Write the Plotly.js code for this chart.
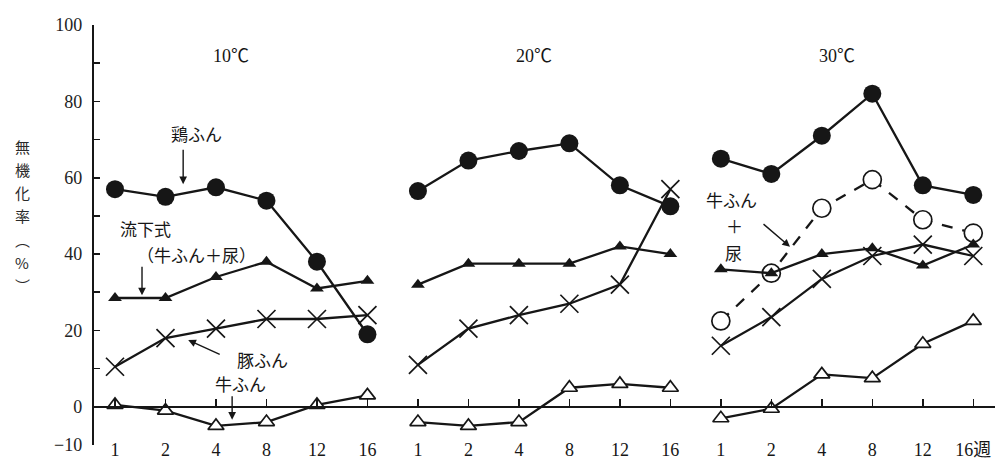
<!DOCTYPE html>
<html><head><meta charset="utf-8">
<script src="https://cdn.plot.ly/plotly-3.0.1.min.js"></script>
<style>html,body{margin:0;padding:0;background:#fff}#chart{width:995px;height:460px}</style>
</head><body><div id="chart"></div>
<script>
// ---- data ----
const weeks = ['1','2','4','8','12','16'];
const temps = ['10℃','20℃','30℃'];
const lastWeekLabel = '16週';

const chicken10 = [57, 55, 57.5, 54, 38, 19];
const chicken20 = [56.5, 64.5, 67, 69, 58, 52.5];
const chicken30 = [65, 61, 71, 82, 58, 55.5];

const flow10 = [28.5, 28.5, 34, 38, 31, 33];
const flow20 = [32, 37.5, 37.5, 37.5, 42, 40];
const flow30 = [36, 35, 40, 41.5, 37, 42.5];

const pig10 = [10.5, 18, 20.5, 23, 23, 24];
const pig20 = [11, 20.5, 24, 27, 32, 57];
const pig30 = [16, 23.5, 33.5, 39.5, 42.5, 39.5];

const cattle10 = [0.5, -1, -5, -4, 0.5, 3];
const cattle20 = [-4, -5, -4, 5, 6, 5];
const cattle30 = [-3, -0.5, 8.5, 7.5, 16.5, 22.5];

const cattleUrine30 = [22.5, 35, 52, 59.5, 49, 45.5];

const yTicks = [-10, 0, 10, 20, 30, 40, 50, 60, 70, 80, 90, 100];
const yTickText = ['−10', '0', '', '20', '', '40', '', '60', '', '80', '', '100'];
const yTitleChars = ['無', '機', '化', '率', '︵', '%', '︶'];

// ---- helpers ----
const PANEL = 6;
function build(panels) {
  const xs = [], ys = [];
  panels.forEach(([p, arr]) => {
    arr.forEach((v, i) => { xs.push(p * PANEL + i); ys.push(v); });
    xs.push(null); ys.push(null);
  });
  return {x: xs, y: ys};
}
const INK = '#161616';
const serif = 'Liberation Serif, Noto Sans CJK JP, serif';
const cjk = 'Noto Sans CJK JP, sans-serif';

function series(panels, marker, dash) {
  const d = build(panels);
  return {
    type: 'scatter', mode: 'lines+markers', x: d.x, y: d.y,
    line: {color: INK, width: 2.3, dash: dash || 'solid'},
    marker: marker, connectgaps: false, hoverinfo: 'skip', showlegend: false,
    cliponaxis: false
  };
}

const traces = [
  series([[0, cattle10], [1, cattle20], [2, cattle30]],
    {symbol: 'triangle-up', size: 14, color: '#fff', line: {color: INK, width: 1.7}}),
  series([[2, cattleUrine30]],
    {symbol: 'circle', size: 18, color: '#fff', line: {color: INK, width: 1.7}}, '11px,10px'),
  series([[0, pig10], [1, pig20], [2, pig30]],
    {symbol: 'x-thin-open', size: 18, color: INK, line: {color: INK, width: 1.7}}),
  series([[0, flow10], [1, flow20], [2, flow30]],
    {symbol: 'triangle-up', size: 12, color: INK, line: {color: INK, width: 0}}),
  series([[0, chicken10], [1, chicken20], [2, chicken30]],
    {symbol: 'circle', size: 18, color: INK, line: {color: INK, width: 0}}),
  {type: 'scatter', x: [], y: [], xaxis: 'x2', yaxis: 'y', showlegend: false, hoverinfo: 'skip'}
];

const tickPos = [], tickTxt = [];
temps.forEach((t, p) => weeks.forEach((w, i) => {
  tickPos.push(p * PANEL + i);
  tickTxt.push(p === temps.length - 1 && i === weeks.length - 1 ? lastWeekLabel : w);
}));

const xr = [-0.416, 17.43];
const ann = [];
temps.forEach((t, p) => ann.push({
  x: p * PANEL + 2.3, y: 92, xref: 'x', yref: 'y', text: t, showarrow: false,
  font: {family: serif, size: 18, color: INK}
}));
function label(x, y, text, size) {
  ann.push({x, y, xref: 'x', yref: 'y', text, showarrow: false,
    font: {family: cjk, size: size || 17, color: INK}});
}
function arrow(x, y, ax, ay) {
  ann.push({x, y, xref: 'x', yref: 'y', text: '', showarrow: true, ax, ay,
    arrowhead: 2, arrowsize: 1.1, arrowwidth: 1.4, arrowcolor: INK});
}
label(1.62, 71.7, '鶏ふん');
arrow(1.35, 58.3, 0, -36);
label(0.6, 46.6, '流下式');
label(1.62, 40.0, '（牛ふん＋尿）');
arrow(0.535, 29.2, 0, -30);
label(2.93, 12.3, '豚ふん');
arrow(1.45, 17.5, 33, 15);
label(2.48, 6.2, '牛ふん');
arrow(2.32, -3.4, 0, -25);
label(12.22, 54.2, '牛ふん');
label(12.28, 47.6, '＋');
label(12.26, 40.3, '尿');
arrow(13.37, 41.9, -28, -24);
yTitleChars.forEach((c, i) => ann.push({
  x: -0.0799, y: 0.72 - i * 0.053, xref: 'paper', yref: 'paper', xanchor: 'center', yanchor: 'middle',
  text: c, showarrow: false, borderpad: 0, font: {family: cjk, size: 15, color: '#2a2a2a'}
}));

const layout = {
  width: 995, height: 460,
  margin: {l: 94, r: 0, t: 25, b: 0, pad: 0},
  paper_bgcolor: '#fff', plot_bgcolor: 'rgba(0,0,0,0)',
  showlegend: false,
  xaxis: {
    range: xr, domain: [0, 1], anchor: 'free', position: 0.052,
    showgrid: false, zeroline: false, showline: false, ticks: '',
    tickmode: 'array', tickvals: tickPos, ticktext: tickTxt,
    tickfont: {family: serif, size: 18, color: INK}
  },
  xaxis2: {
    range: [xr[0] + 6 / 50.49, xr[1]], domain: [6 / 901, 1], anchor: 'free', position: 0.1223,
    showgrid: false, zeroline: false, showline: true, linecolor: INK, linewidth: 2,
    ticks: 'inside', ticklen: 7, tickwidth: 1.5, tickcolor: INK,
    tickmode: 'array', tickvals: tickPos, showticklabels: false
  },
  yaxis: {
    range: [-10, 100], domain: [15 / 435, 1], anchor: 'x',
    showgrid: false, zeroline: false, showline: true, linecolor: INK, linewidth: 2.2,
    ticks: 'inside', ticklen: 6, tickwidth: 1.6, tickcolor: INK,
    tickmode: 'array', tickvals: yTicks, ticktext: yTickText,
    ticklabelstandoff: 6,
    tickfont: {family: serif, size: 18, color: '#222'}
  },
  annotations: ann
};
Plotly.newPlot('chart', traces, layout, {staticPlot: true, displayModeBar: false});
</script></body></html>
